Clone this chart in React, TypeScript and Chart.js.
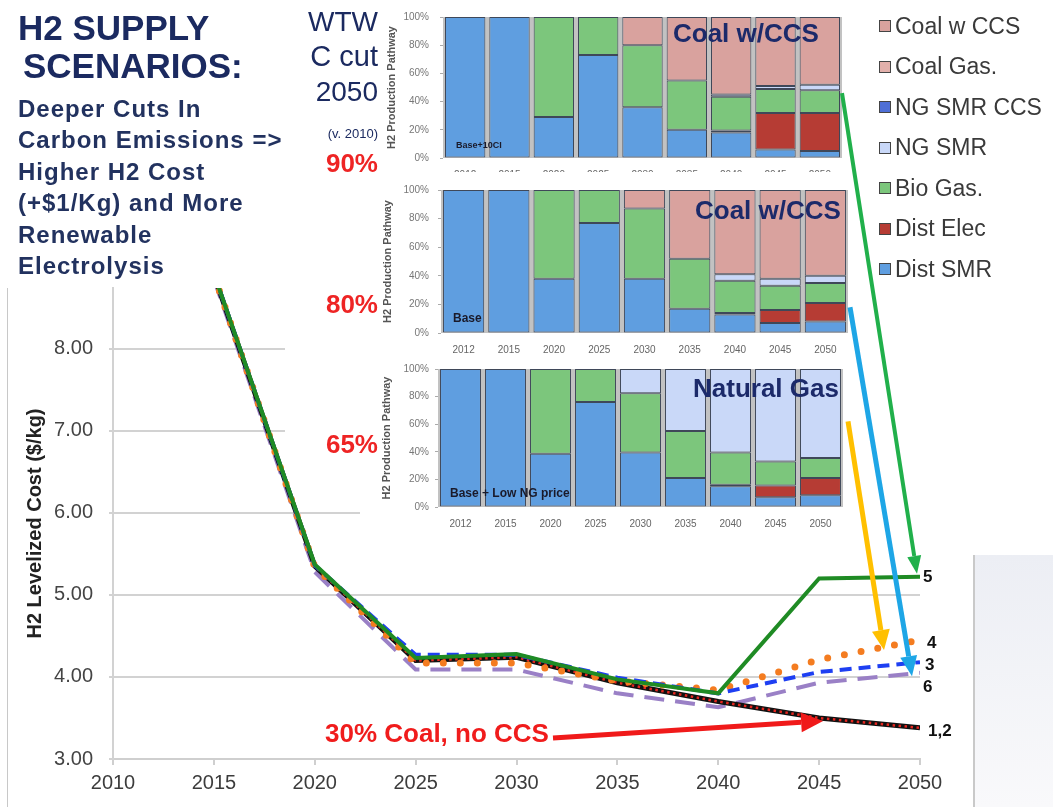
import React, { useEffect, useRef } from 'react';
import { Chart, registerables } from 'chart.js';

Chart.register(...registerables);

const FONT = "'Liberation Sans', Arial, Helvetica, sans-serif";

// ---------- Line chart data (H2 levelized cost, $/kg) ----------
const costYears = [2015, 2020, 2025, 2030, 2035, 2040, 2045, 2050];
const xTickYears = [2010, 2015, 2020, 2025, 2030, 2035, 2040, 2045, 2050];
const yTickValues = [3, 4, 5, 6, 7, 8];
const scenario1 = [8.9, 5.35, 4.2, 4.24, 3.93, 3.7, 3.5, 3.38];
const scenario2 = [8.9, 5.35, 4.2, 4.24, 3.93, 3.7, 3.5, 3.38];
const scenario3 = [8.92, 5.36, 4.27, 4.27, 3.99, 3.8, 4.06, 4.18];
const scenario4 = [8.9, 5.34, 4.17, 4.17, 3.95, 3.84, 4.21, 4.45];
const scenario5 = [8.92, 5.37, 4.23, 4.28, 3.97, 3.8, 5.2, 5.22];
const scenario6 = [8.85, 5.28, 4.09, 4.09, 3.8, 3.63, 3.93, 4.05];

// ---------- Stacked bar data (H2 production pathway, %) ----------
const barYears = ['2012', '2015', '2020', '2025', '2030', '2035', '2040', '2045', '2050'];
const seriesNames = ['Dist SMR', 'Dist Elec', 'Bio Gas.', 'NG SMR', 'NG SMR CCS', 'Coal Gas.', 'Coal w CCS'];
const seriesColors = ['#5f9ee0', '#b63c34', '#7cc67c', '#c9d8f8', '#4f6fd6', '#e2b0ab', '#d9a29e'];

// 90% cut (Base+10CI)
const distSMR90 = [100, 100, 29, 73, 36, 20, 18, 6, 5];
const distElec90 = [0, 0, 0, 0, 0, 0, 1.5, 26, 27];
const bioGas90 = [0, 0, 71, 27, 44, 35, 24, 17, 16];
const ngSmr90 = [0, 0, 0, 0, 0, 0, 1.5, 2, 4];
const ngSmrCcs90 = [0, 0, 0, 0, 0, 0, 0, 0, 0];
const coalGas90 = [0, 0, 0, 0, 0, 0, 0, 0, 0];
const coalCcs90 = [0, 0, 0, 0, 20, 45, 55, 49, 48];

// 80% cut (Base)
const distSMR80 = [100, 100, 38, 77, 38, 17, 13, 7, 8];
const distElec80 = [0, 0, 0, 0, 0, 0, 1, 9, 13];
const bioGas80 = [0, 0, 62, 23, 49, 35, 22.5, 17, 14];
const ngSmr80 = [0, 0, 0, 0, 0, 0, 4.5, 5, 5];
const ngSmrCcs80 = [0, 0, 0, 0, 0, 0, 0, 0, 0];
const coalGas80 = [0, 0, 0, 0, 0, 0, 0, 0, 0];
const coalCcs80 = [0, 0, 0, 0, 13, 48, 59, 62, 60];

// 65% cut (Base + Low NG price)
const distSMR65 = [100, 100, 38.5, 76, 39.5, 21, 15, 7, 8.5];
const distElec65 = [0, 0, 0, 0, 0, 0, 1.2, 8.5, 12.5];
const bioGas65 = [0, 0, 61.5, 24, 43, 34, 23.3, 17.5, 14.5];
const ngSmr65 = [0, 0, 0, 0, 17.5, 45, 60.5, 67, 64.5];
const ngSmrCcs65 = [0, 0, 0, 0, 0, 0, 0, 0, 0];
const coalGas65 = [0, 0, 0, 0, 0, 0, 0, 0, 0];
const coalCcs65 = [0, 0, 0, 0, 0, 0, 0, 0, 0];

const scenarioBars90 = [distSMR90, distElec90, bioGas90, ngSmr90, ngSmrCcs90, coalGas90, coalCcs90];
const scenarioBars80 = [distSMR80, distElec80, bioGas80, ngSmr80, ngSmrCcs80, coalGas80, coalCcs80];
const scenarioBars65 = [distSMR65, distElec65, bioGas65, ngSmr65, ngSmrCcs65, coalGas65, coalCcs65];

// ---------- Layout boxes (page pixels) ----------
const box1 = { left: 380, top: 0, width: 470, height: 178, plotLeft: 443, plotRight: 842, plotTop: 13, plotBottom: 158, labelPad: 11, titlePad: 5 };
const box2 = { left: 380, top: 172, width: 470, height: 183, plotLeft: 441, plotRight: 848, plotTop: 190, plotBottom: 333, labelPad: 9, titlePad: 1 };
const box3 = { left: 380, top: 355, width: 470, height: 175, plotLeft: 438, plotRight: 843, plotTop: 369, plotBottom: 507, labelPad: 6, titlePad: 0 };

const endLabels = [
  { text: '5', values: scenario5, dx: 3, dy: 0 },
  { text: '4', values: scenario4, dx: 7, dy: 3 },
  { text: '3', values: scenario3, dx: 5, dy: 3 },
  { text: '6', values: scenario6, dx: 3, dy: 14 },
  { text: '1,2', values: scenario1, dx: 8, dy: 3 },
];

const pts = (vals: number[]) => vals.map((v, i) => ({ x: costYears[i], y: v }));

const plotBg = {
  id: 'plotBg',
  beforeDatasetsDraw(chart: any) {
    const { ctx, chartArea } = chart;
    ctx.save();
    ctx.fillStyle = '#c2c2c2';
    ctx.fillRect(chartArea.left, chartArea.top, chartArea.right - chartArea.left, chartArea.bottom - chartArea.top);
    ctx.restore();
  },
};

const endLabelPlugin = {
  id: 'endLabels',
  afterDatasetsDraw(chart: any) {
    const { ctx, scales } = chart;
    ctx.save();
    ctx.font = `bold 17px ${FONT}`;
    ctx.fillStyle = '#111';
    ctx.textBaseline = 'middle';
    ctx.textAlign = 'left';
    endLabels.forEach((l) => {
      const v = l.values[l.values.length - 1];
      ctx.fillText(l.text, scales.x.getPixelForValue(costYears[costYears.length - 1]) + l.dx, scales.y.getPixelForValue(v) + l.dy);
    });
    ctx.restore();
  },
};

function makeBar(canvas: HTMLCanvasElement, box: any, data: number[][]) {
  const datasets = seriesNames.map((name, i) => ({
    label: name,
    data: data[i].map((v) => (v === 0 ? null : v)),
    backgroundColor: seriesColors[i],
    borderColor: 'rgba(40,50,70,0.85)',
    borderWidth: 1,
    borderSkipped: false,
    barPercentage: 0.91,
    categoryPercentage: 1,
  }));
  return new Chart(canvas, {
    type: 'bar',
    data: { labels: barYears, datasets },
    options: {
      responsive: false,
      animation: false,
      layout: { padding: { top: box.plotTop - box.top, right: box.left + box.width - box.plotRight, left: 0, bottom: 0 } },
      plugins: { legend: { display: false }, tooltip: { enabled: false } },
      scales: {
        x: {
          stacked: true,
          grid: { display: false },
          border: { display: false },
          ticks: { font: { size: 10, family: FONT }, color: '#666', maxRotation: 0, autoSkip: false, padding: 3 },
          afterFit: (s: any) => { s.height = box.top + box.height - box.plotBottom; },
        },
        y: {
          stacked: true,
          min: 0,
          max: 100,
          ticks: { stepSize: 20, callback: (v: any) => v + '%', font: { size: 10, family: FONT }, color: '#777', padding: box.labelPad },
          grid: { drawOnChartArea: false, tickLength: 3, color: '#aaa' },
          border: { display: false },
          title: { display: true, text: 'H2 Production Pathway', font: { size: 11, weight: 'bold', family: FONT }, color: '#555', padding: { top: box.titlePad, bottom: 0 } },
          afterFit: (s: any) => { s.width = box.plotLeft - box.left; },
        },
      },
    },
    plugins: [plotBg],
  } as any);
}

function drawArrow(ctx: CanvasRenderingContext2D, x1: number, y1: number, x2: number, y2: number, color: string, lw: number, headLen: number, headW: number) {
  const ang = Math.atan2(y2 - y1, x2 - x1);
  const bx = x2 - headLen * Math.cos(ang);
  const by = y2 - headLen * Math.sin(ang);
  ctx.save();
  ctx.strokeStyle = color;
  ctx.fillStyle = color;
  ctx.lineWidth = lw;
  ctx.beginPath();
  ctx.moveTo(x1, y1);
  ctx.lineTo(bx, by);
  ctx.stroke();
  ctx.beginPath();
  ctx.moveTo(x2, y2);
  ctx.lineTo(bx + (headW / 2) * Math.sin(ang), by - (headW / 2) * Math.cos(ang));
  ctx.lineTo(bx - (headW / 2) * Math.sin(ang), by + (headW / 2) * Math.cos(ang));
  ctx.closePath();
  ctx.fill();
  ctx.restore();
}

const abs = (l: number, t: number, extra: any = {}) => ({ position: 'absolute' as const, left: l, top: t, ...extra });

export default function App() {
  const lineRef = useRef<HTMLCanvasElement>(null);
  const b1Ref = useRef<HTMLCanvasElement>(null);
  const b2Ref = useRef<HTMLCanvasElement>(null);
  const b3Ref = useRef<HTMLCanvasElement>(null);
  const ovRef = useRef<HTMLCanvasElement>(null);

  useEffect(() => {
    const line = new Chart(lineRef.current!, {
      type: 'line',
      data: {
        datasets: [
          { label: '5', data: pts(scenario5), borderColor: '#1f8b24', borderWidth: 4 },
          { label: '3', data: pts(scenario3), borderColor: '#1e3ff2', borderWidth: 4, borderDash: [12, 7] },
          { label: '4', data: pts(scenario4), borderColor: '#f47c20', borderWidth: 7, borderDash: [0, 17], borderCapStyle: 'round' },
          { label: '2', data: pts(scenario2), borderColor: '#e6261f', borderWidth: 2.5, borderDash: [2.5, 3.5] },
          { label: '1', data: pts(scenario1), borderColor: '#111111', borderWidth: 5 },
          { label: '6', data: pts(scenario6), borderColor: '#9a80c6', borderWidth: 4, borderDash: [20, 11] },
        ],
      },
      options: {
        responsive: false,
        animation: false,
        elements: { point: { radius: 0 }, line: { tension: 0, fill: false } },
        layout: { padding: { left: 0, top: 288, right: 133, bottom: 0 } },
        plugins: { legend: { display: false }, tooltip: { enabled: false } },
        scales: {
          x: {
            type: 'linear',
            min: 2010,
            max: 2050,
            afterBuildTicks: (s: any) => { s.ticks = xTickYears.map((v) => ({ value: v })); },
            ticks: { callback: (v: any) => String(v), font: { size: 20, family: FONT }, color: '#3c3c3c', padding: 6, maxRotation: 0, autoSkip: false },
            grid: { drawOnChartArea: false, tickLength: 6, color: '#cfcfcf', lineWidth: 2 },
            border: { display: true, color: '#cfcfcf', width: 2 },
            afterFit: (s: any) => { s.height = 48; },
          },
          y: {
            min: 3,
            max: 8.74,
            afterBuildTicks: (s: any) => { s.ticks = yTickValues.map((v) => ({ value: v })); },
            ticks: { callback: (v: any) => Number(v).toFixed(2), font: { size: 20, family: FONT }, color: '#444', padding: 16 },
            grid: { color: '#d2d2d2', lineWidth: 2, tickLength: 4 },
            border: { display: true, color: '#d2d2d2', width: 2 },
            title: { display: true, text: 'H2 Levelized Cost ($/kg)', font: { size: 20, weight: 'bold', family: FONT }, color: '#222', padding: { top: 23, bottom: 0 } },
            afterFit: (s: any) => { s.width = 113; },
          },
        },
      },
      plugins: [endLabelPlugin],
    } as any);

    const c1 = makeBar(b1Ref.current!, box1, scenarioBars90);
    const c2 = makeBar(b2Ref.current!, box2, scenarioBars80);
    const c3 = makeBar(b3Ref.current!, box3, scenarioBars65);

    const ctx = ovRef.current!.getContext('2d')!;
    ctx.clearRect(0, 0, 1053, 807);
    const xs: any = line.scales.x;
    const ys: any = line.scales.y;
    const last = costYears.length - 1;
    const xEnd = xs.getPixelForValue(costYears[last]);
    drawArrow(ctx, box1.left + c1.chartArea.right, box1.top + (c1.scales.y as any).getPixelForValue(46),
      xEnd - 3, ys.getPixelForValue(scenario5[last]) - 3, '#21b04b', 4, 18, 14);
    drawArrow(ctx, box2.left + c2.chartArea.right + 2, box2.top + (c2.scales.y as any).getPixelForValue(18),
      xEnd - 8, ys.getPixelForValue(scenario3[last]) + 14, '#1ea6e6', 5, 20, 17);
    drawArrow(ctx, box3.left + c3.chartArea.right + 5, box3.top + (c3.scales.y as any).getPixelForValue(62),
      xEnd - 36, ys.getPixelForValue(scenario4[last]) + 10, '#ffc000', 5, 20, 18);
    drawArrow(ctx, 553, 738, xs.getPixelForValue(costYears[last - 1]) + 4, ys.getPixelForValue(scenario1[last - 1]) + 3, '#f01a1a', 5, 22, 20);

    return () => {
      line.destroy();
      c1.destroy();
      c2.destroy();
      c3.destroy();
    };
  }, []);

  const navy = '#1b2a60';
  const legendItems = seriesNames.map((n, i) => ({ name: n, color: seriesColors[i] })).reverse();

  return (
    <div style={{ position: 'absolute', left: 0, top: 0, width: 1053, height: 807, overflow: 'hidden', background: '#fff', fontFamily: FONT }}>
      <canvas ref={lineRef} width={1053} height={807} style={abs(0, 0, { zIndex: 1 })} />
      {/* frame pieces */}
      <div style={abs(7, 288, { width: 1, height: 519, background: '#c8c8c8', zIndex: 2 })} />
      <div style={abs(973, 555, { width: 80, height: 252, borderLeft: '2px solid #c9c9c9', background: 'linear-gradient(#eceef4, #f9f9fb)', zIndex: 2 })} />
      {/* white covers for inset panel */}
      <div style={abs(285, 288, { width: 768, height: 182, background: '#fff', zIndex: 2 })} />
      <div style={abs(360, 470, { width: 693, height: 60, background: '#fff', zIndex: 2 })} />

      {/* headline text */}
      <div style={abs(18, 10, { zIndex: 3, fontSize: 35, lineHeight: '35px', fontWeight: 'bold', color: navy, whiteSpace: 'nowrap' })}>H2 SUPPLY</div>
      <div style={abs(23, 48, { zIndex: 3, fontSize: 35, lineHeight: '35px', fontWeight: 'bold', color: navy, whiteSpace: 'nowrap' })}>SCENARIOS:</div>
      <div style={abs(18, 93, { zIndex: 3, fontSize: 24, lineHeight: '31.4px', fontWeight: 'bold', color: '#22325f', letterSpacing: 1, whiteSpace: 'nowrap' })}>
        <div>Deeper Cuts In</div>
        <div>Carbon Emissions =&gt;</div>
        <div>Higher H2 Cost</div>
        <div>(+$1/Kg) and More</div>
        <div>Renewable</div>
        <div>Electrolysis</div>
      </div>

      {/* WTW column */}
      <div style={abs(240, 8, { width: 138, textAlign: 'right', zIndex: 3, fontSize: 28, lineHeight: '28px', color: navy })}>WTW</div>
      <div style={abs(240, 42, { width: 138, textAlign: 'right', zIndex: 3, fontSize: 29, lineHeight: '29px', color: navy })}>C cut</div>
      <div style={abs(240, 78, { width: 138, textAlign: 'right', zIndex: 3, fontSize: 28, lineHeight: '28px', color: navy })}>2050</div>
      <div style={abs(240, 127, { width: 138, textAlign: 'right', zIndex: 3, fontSize: 13, lineHeight: '13px', color: navy })}>(v. 2010)</div>
      <div style={abs(240, 150, { width: 138, textAlign: 'right', zIndex: 3, fontSize: 26, lineHeight: '26px', fontWeight: 'bold', color: '#ee2424' })}>90%</div>
      <div style={abs(240, 291, { width: 138, textAlign: 'right', zIndex: 3, fontSize: 26, lineHeight: '26px', fontWeight: 'bold', color: '#ee2424' })}>80%</div>
      <div style={abs(240, 431, { width: 138, textAlign: 'right', zIndex: 3, fontSize: 26, lineHeight: '26px', fontWeight: 'bold', color: '#ee2424' })}>65%</div>

      {/* inset bar charts */}
      <canvas ref={b1Ref} width={box1.width} height={box1.height} style={abs(box1.left, box1.top, { zIndex: 3, background: '#fff' })} />
      <canvas ref={b2Ref} width={box2.width} height={box2.height} style={abs(box2.left, box2.top, { zIndex: 3, background: '#fff' })} />
      <canvas ref={b3Ref} width={box3.width} height={box3.height} style={abs(box3.left, box3.top, { zIndex: 3, background: '#fff' })} />

      <div style={abs(456, 141, { zIndex: 4, fontSize: 9, lineHeight: '9px', fontWeight: 'bold', color: '#1a1a2a', whiteSpace: 'nowrap' })}>Base+10CI</div>
      <div style={abs(453, 312, { zIndex: 4, fontSize: 12, lineHeight: '12px', fontWeight: 'bold', color: '#1a1a2a' })}>Base</div>
      <div style={abs(450, 487, { zIndex: 4, fontSize: 12, lineHeight: '12px', fontWeight: 'bold', color: '#1a1a2a', whiteSpace: 'nowrap' })}>Base + Low NG price</div>

      <div style={abs(673, 20, { zIndex: 4, fontSize: 26, lineHeight: '26px', fontWeight: 'bold', color: '#1c2a6a', whiteSpace: 'nowrap' })}>Coal w/CCS</div>
      <div style={abs(695, 197, { zIndex: 4, fontSize: 26, lineHeight: '26px', fontWeight: 'bold', color: '#1c2a6a', whiteSpace: 'nowrap' })}>Coal w/CCS</div>
      <div style={abs(693, 375, { zIndex: 4, fontSize: 26, lineHeight: '26px', fontWeight: 'bold', color: '#1c2a6a', whiteSpace: 'nowrap' })}>Natural Gas</div>

      {/* legend */}
      {legendItems.map((it, i) => (
        <div key={it.name} style={abs(879, 26 + 40.5 * i - 11.5, { zIndex: 4, display: 'flex', alignItems: 'center', height: 23, whiteSpace: 'nowrap' })}>
          <div style={{ width: 10, height: 10, border: '1px solid #444', background: it.color, marginRight: 4 }} />
          <span style={{ fontSize: 23, lineHeight: '23px', color: '#3a3a3a' }}>{it.name}</span>
        </div>
      ))}

      <div style={abs(325, 720, { zIndex: 4, fontSize: 26, lineHeight: '26px', fontWeight: 'bold', color: '#f01c1c', whiteSpace: 'nowrap' })}>30% Coal, no CCS</div>

      <canvas ref={ovRef} width={1053} height={807} style={abs(0, 0, { zIndex: 5, pointerEvents: 'none' })} />
    </div>
  );
}
